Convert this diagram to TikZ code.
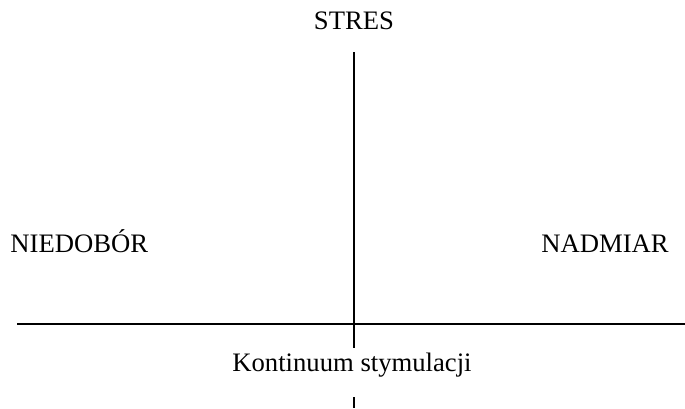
\documentclass[tikz,border=0pt]{standalone}
\usepackage{fontspec}
\setmainfont{Liberation Serif}
\usetikzlibrary{calc}

\begin{document}
\begin{tikzpicture}[x=.48pt,y=-.48pt,font=\fontsize{12.8}{15}\selectfont]
 \useasboundingbox (0,0) rectangle (685,408);
 \tikzset{axis/.style={line width=1pt}}
 % axes
 \coordinate (vtop) at (354,52);\coordinate (vbot) at (354,348);
 \coordinate (hleft) at (17,324);\coordinate (hright) at (685,324);
 \draw[axis] (vtop)--(vbot);
 \draw[axis] (hleft)--(hright);
 \coordinate (ttop) at (354,397);\coordinate (tbot) at (354,408);
 \draw[axis] (ttop)--(tbot);
 % labels
 \node[anchor=base] (stres) at (354,29) {STRES};
 \node[anchor=base west,inner sep=0pt] (niedobor) at (10,252) {NIEDOBÓR};
 \node[anchor=base] (nadmiar) at (605,252) {NADMIAR};
 \node[anchor=base] (kont) at (352,371) {Kontinuum stymulacji};
\end{tikzpicture}
\end{document}
